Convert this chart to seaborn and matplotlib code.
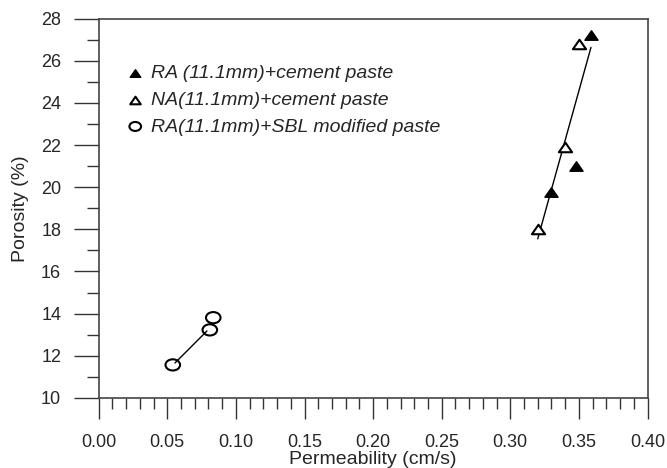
import matplotlib
matplotlib.use("Agg")
import matplotlib.pyplot as plt
import seaborn as sns
import numpy as np
from matplotlib.ticker import MultipleLocator
from matplotlib.path import Path
from matplotlib.markers import MarkerStyle

# ---- data ----
ra_perm = [0.359, 0.348, 0.330]
ra_poro = [27.2, 21.0, 19.75]
na_perm = [0.350, 0.340, 0.320]
na_poro = [26.8, 21.9, 18.0]
sbl_perm = [0.054, 0.081, 0.0835]
sbl_poro = [11.57, 13.23, 13.81]
fit1_perm = [0.320, 0.3588]
fit1_poro = [17.55, 26.63]
fit2_perm = [0.0556, 0.0789]
fit2_poro = [11.66, 13.18]

lab_ra = "RA (11.1mm)+cement paste"
lab_na = "NA(11.1mm)+cement paste"
lab_sbl = "RA(11.1mm)+SBL modified paste"
x_ticks = [0.00, 0.05, 0.10, 0.15, 0.20, 0.25, 0.30, 0.35, 0.40]
y_ticks = [10, 12, 14, 16, 18, 20, 22, 24, 26, 28]

sns.set_style("ticks")
plt.rcParams['font.family'] = ['Liberation Sans', 'DejaVu Sans']

# slightly flattened marker shapes (the reference is stretched horizontally)
tri = MarkerStyle(Path([(0, 0.72), (-1, -0.72), (1, -0.72), (0, 0.72)],
                       [Path.MOVETO, Path.LINETO, Path.LINETO, Path.CLOSEPOLY]))
uc = Path.unit_circle()
ell = MarkerStyle(Path(uc.vertices * np.array([1.3, 1.0]), uc.codes))

fig = plt.figure(figsize=(6.67, 4.68), dpi=100)
ax = fig.add_axes([98.7 / 667, 1 - 398 / 468, 548.8 / 667, (398 - 18.5) / 468])

# fit lines
sns.lineplot(x=fit1_perm, y=fit1_poro, ax=ax, color="black", lw=1, zorder=1)
sns.lineplot(x=fit2_perm, y=fit2_poro, ax=ax, color="black", lw=1, zorder=1)

sns.scatterplot(x=ra_perm, y=ra_poro, ax=ax, marker=tri, s=90, color="black",
                edgecolor="black", linewidth=1, label=lab_ra, zorder=3)
sns.scatterplot(x=na_perm, y=na_poro, ax=ax, marker=tri, s=90, facecolor="white",
                edgecolor="black", linewidth=1.5, label=lab_na, zorder=3)
sns.scatterplot(x=sbl_perm, y=sbl_poro, ax=ax, marker=ell, s=110, facecolor="none",
                edgecolor="black", linewidth=1.5, label=lab_sbl, zorder=3)

ax.set_xlim(0, 0.40)
ax.set_ylim(10, 28)
ax.set_xticks(x_ticks)
ax.set_xticklabels([f"{v:.2f}" for v in x_ticks])
ax.set_yticks(y_ticks)
ax.set_yticklabels([str(v) for v in y_ticks])
ax.xaxis.set_minor_locator(MultipleLocator(0.01))
ax.yaxis.set_minor_locator(MultipleLocator(1))
ax.tick_params(axis="x", which="major", direction="out", length=15, width=1, pad=11,
               labelsize=13, color="#333333")
ax.tick_params(axis="x", which="minor", direction="out", length=8, width=1, color="#333333")
ax.tick_params(axis="y", which="major", direction="out", length=18, width=1, pad=9,
               labelsize=13, color="#333333")
ax.tick_params(axis="y", which="minor", direction="out", length=9, width=1, color="#333333")
for sp in ax.spines.values():
    sp.set_visible(True)
    sp.set_color("#444444")
    sp.set_linewidth(1.2)

ax.set_xlabel("Permeability (cm/s)", fontsize=14, labelpad=0)
ax.set_ylabel("Porosity (%)", fontsize=14, labelpad=9)

leg = ax.legend(loc="upper left", bbox_to_anchor=(0.017, 0.924), frameon=False,
                prop={"style": "italic", "size": 14}, markerscale=0.8,
                handletextpad=0.3, labelspacing=0.46, handlelength=1.0)

fig.savefig("out.png", dpi=100)
